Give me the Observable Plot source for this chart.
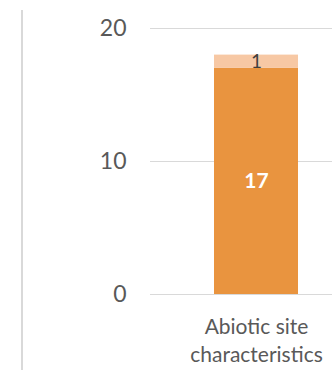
<!DOCTYPE html>
<html>
<head>
<meta charset="utf-8">
<script src="https://cdn.jsdelivr.net/npm/d3@7"></script>
<script src="https://cdn.jsdelivr.net/npm/@observablehq/plot@0.6"></script>
<style>
  html, body { margin: 0; padding: 0; background: #fff; }
  #wrap { position: relative; width: 332px; height: 370px; overflow: hidden; }
  #edge { position: absolute; left: 21px; top: 10px; height: 360px; width: 0; border-left: 2px solid #d9d9d9; }
</style>
</head>
<body>
<div id="wrap"><div id="edge"></div></div>
<script>
const categories = ["Abiotic site characteristics"];
const seriesNames = ["Main", "Other"];
const mainValues = [17];
const otherValues = [1];
const yTicks = [0, 10, 20];
const seriesColors = ["#e9943f", "#f7c8a4"];
const labelColors = ["#ffffff", "#404040"];

const data = [];
categories.forEach((c, i) => {
  data.push({category: c, series: seriesNames[0], value: mainValues[i]});
  data.push({category: c, series: seriesNames[1], value: otherValues[i]});
});

const font = "Lato, 'Open Sans', sans-serif";
const stackOpts = {x: "category", y: "value", z: "series", order: seriesNames, text: d => String(d.value)};

const chart = Plot.plot({
  width: 332,
  height: 370,
  marginLeft: 150,
  marginRight: 0,
  marginTop: 28,
  marginBottom: 76,
  style: {fontFamily: font, background: "transparent", overflow: "visible"},
  x: {domain: categories, paddingInner: 0, paddingOuter: 0.583, align: 0.653},
  y: {domain: [0, 20]},
  color: {domain: seriesNames, range: seriesColors},
  marks: [
    Plot.gridY(yTicks, {stroke: "#d9d9d9", strokeOpacity: 1, strokeWidth: 1}),
    Plot.barY(data, Plot.stackY({x: "category", y: "value", fill: "series", order: seriesNames})),
    Plot.text(data, Plot.filter(d => d.series === seriesNames[0], Plot.stackY({...stackOpts,
      fill: labelColors[0], fontWeight: "bold", fontSize: 21}))),
    Plot.text(data, Plot.filter(d => d.series === seriesNames[1], Plot.stackY({...stackOpts,
      fill: labelColors[1], fontWeight: "normal", fontSize: 19}))),
    Plot.axisY(yTicks, {tickSize: 0, tickPadding: 24, fontSize: 23, fill: "#595959", label: null}),
    Plot.axisX({
      tickSize: 0, tickPadding: 20, fontSize: 21, fill: "#595959", label: null,
      lineHeight: 1.32,
      tickFormat: d => d === "Abiotic site characteristics" ? "Abiotic site\ncharacteristics" : d
    })
  ]
});
document.getElementById("wrap").appendChild(chart);
chart.style.position = "absolute";
chart.style.left = "0";
chart.style.top = "0";
</script>
</body>
</html>
